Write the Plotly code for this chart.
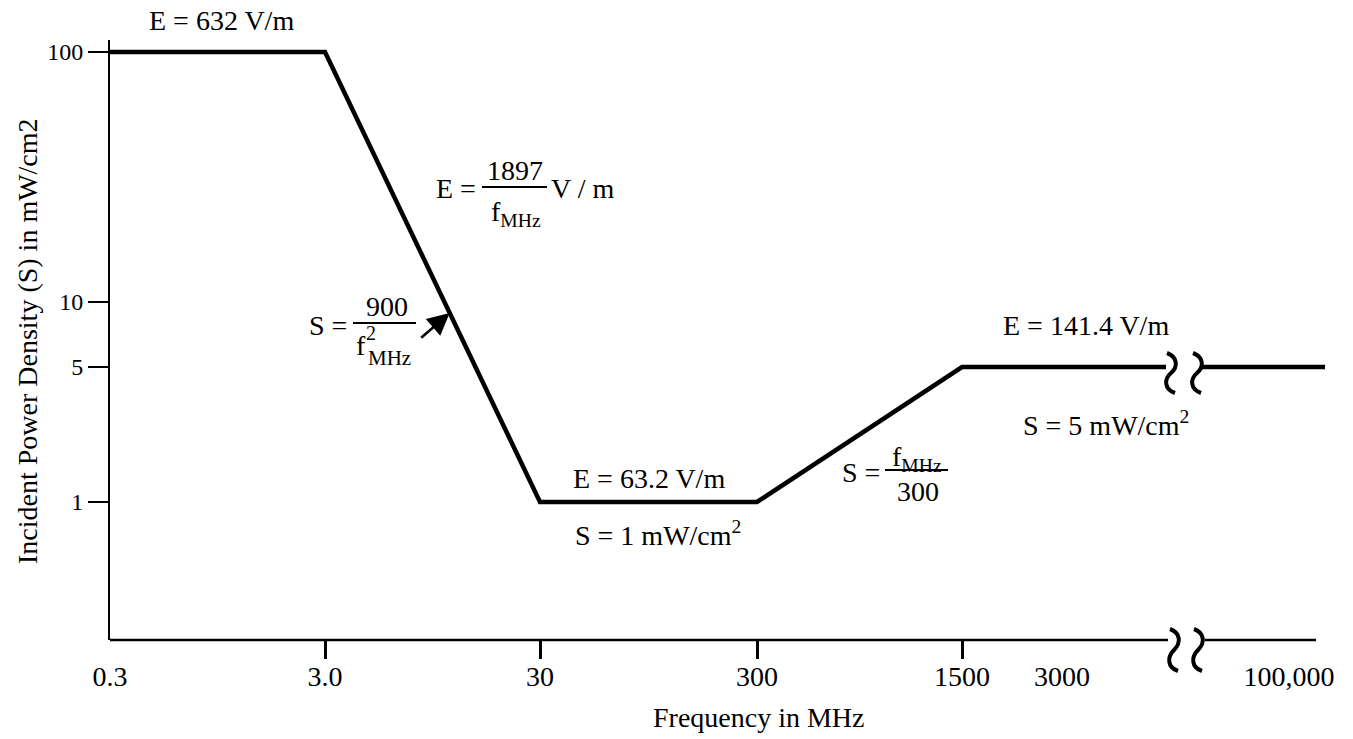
import numpy as np
import plotly.graph_objects as go

# ---------------- data ----------------
FREQ_MHZ = [0.3, 3, 30, 300, 1500, 100000]        # break-points of the limit curve
S_LIMIT = [100, 100, 1, 1, 5, 5]                  # power density, mW/cm2

X_TICK_FREQ = [0.3, 3, 30, 300, 1500, 3000, 100000]
X_TICK_LABELS = ["0.3", "3.0", "30", "300", "1500", "3000", "100,000"]
X_TICK_MARKED = [3, 30, 300, 1500]

Y_TICK_VALS = [1, 5, 10, 100]
Y_TICK_LABELS = ["1", "5", "10", "100"]

# ---------------- layout geometry (schematic, non-uniform scales) ----------------
W, H = 1353, 739
L_PX, R_PX, T_PX, B_PX = 110, 1325, 40, 640       # plot area in screen pixels
X_UNIT, Y_UNIT, Y_REF = 215.0, 250.0, 502.0


def xu(px):
    return (px - L_PX) / X_UNIT


def yu(py):
    return (Y_REF - py) / Y_UNIT


def xp(px):
    return (px - L_PX) / (R_PX - L_PX)


def yp(py):
    return (B_PX - py) / (B_PX - T_PX)


X_TICK_POS = [xu(p) for p in (110, 325, 540, 757, 962, 1062, 1289)]
Y_TICK_POS = [yu(p) for p in (502, 367, 302, 52)]


def fx(f):
    return np.interp(np.log10(f), np.log10(X_TICK_FREQ), X_TICK_POS)


def fy(s):
    return np.interp(np.log10(s), np.log10(Y_TICK_VALS), Y_TICK_POS)


X_MIN, X_MAX = 0.0, xu(R_PX)
Y_MIN, Y_MAX = yu(B_PX), yu(T_PX)
BREAK_LINE_L, BREAK_LINE_R = xu(1166), xu(1202)
BREAK_AX_L, BREAK_AX_R = xu(1168), xu(1205)
AXIS_END = xu(1316)

FONT = "Liberation Serif"
FS = 28
FS_Y = 24

xs = [float(fx(f)) for f in FREQ_MHZ]
ys = [float(fy(s)) for s in S_LIMIT]

# left part of curve up to the break, right part after the break
left_x = xs[:5] + [BREAK_LINE_L]
left_y = ys[:5] + [ys[5]]
right_x = [BREAK_LINE_R, xs[5], X_MAX]
right_y = [ys[5], ys[5], ys[5]]

fig = go.Figure()
line_style = dict(color="black", width=4.5)
fig.add_trace(go.Scatter(x=left_x, y=left_y, mode="lines", line=line_style,
                         hoverinfo="skip", showlegend=False))
fig.add_trace(go.Scatter(x=right_x, y=right_y, mode="lines", line=line_style,
                         hoverinfo="skip", showlegend=False))

shapes = []
# x axis line with a break
for a, b in ((X_MIN, BREAK_AX_L), (BREAK_AX_R, AXIS_END)):
    shapes.append(dict(type="line", xref="x", yref="paper", x0=a, x1=b, y0=0, y1=0,
                       line=dict(color="black", width=2.5)))

squig_line = "M -4,14 C 7,10 7,0 0,-6 C -7,-12 -7,-22 4,-26"
squig_axis = "M -4,11 C 7,7 7,-3 0,-10 C -7,-17 -7,-27 4,-31"
for px_ in (1171, 1197):
    shapes.append(dict(type="path", xref="x", yref="y", xsizemode="pixel", ysizemode="pixel",
                       xanchor=xu(px_), yanchor=ys[5], path=squig_line,
                       line=dict(color="black", width=4)))
for px_ in (1174, 1198):
    shapes.append(dict(type="path", xref="x", yref="paper", xsizemode="pixel", ysizemode="pixel",
                       xanchor=xu(px_), yanchor=0, path=squig_axis,
                       line=dict(color="black", width=4)))

# fraction bars
for x0p, x1p, ypx in ((482, 547, 187), (353, 416, 323), (885, 948, 470)):
    shapes.append(dict(type="line", xref="x", yref="y", x0=xu(x0p), x1=xu(x1p),
                       y0=yu(ypx), y1=yu(ypx), line=dict(color="black", width=1.8)))

annotations = []


def txt(text, px_, py_, size=FS, angle=0):
    annotations.append(dict(text=text, x=xp(px_), y=yp(py_), xref="paper", yref="paper",
                            showarrow=False, xanchor="center", yanchor="middle",
                            textangle=angle, font=dict(family=FONT, size=size, color="black")))


txt("E = 632 V/m", 221, 21)

txt("E =", 456, 188)
txt("1897", 515, 170)
txt("f<sub>MHz</sub>", 516, 213)
txt("V / m", 582, 188)

txt("S =", 328, 325)
txt("900", 387, 307)
txt("f", 361, 345)
txt("2", 371, 333, size=20)
txt("MHz", 389, 358, size=21)

txt("E = 63.2 V/m", 649, 478)
txt("S = 1 mW/cm<sup>2</sup>", 658, 533)

txt("S =", 861, 472)
txt("f<sub>MHz</sub>", 917, 459)
txt("300", 918, 491)

txt("E = 141.4 V/m", 1086, 325)
txt("S = 5 mW/cm<sup>2</sup>", 1106, 423)

txt("Frequency in MHz", 759, 718)
txt("Incident Power Density (S) in mW/cm2", 27, 341, angle=-90)

# arrow pointing at the 900/f^2 segment
t = 0.58
ax_x = xs[1] + t * (xs[2] - xs[1])
ax_y = ys[1] + t * (ys[2] - ys[1])
annotations.append(dict(x=ax_x, y=ax_y, xref="x", yref="y", text="", showarrow=True,
                        ax=-30, ay=26, arrowhead=2, arrowsize=1.7, arrowwidth=2.6,
                        arrowcolor="black", standoff=0))

fig.update_layout(
    width=W, height=H,
    margin=dict(l=L_PX, r=W - R_PX, t=T_PX, b=H - B_PX, pad=0),
    paper_bgcolor="white", plot_bgcolor="white",
    shapes=shapes, annotations=annotations,
    font=dict(family=FONT, size=FS, color="black"),
    xaxis=dict(range=[X_MIN, X_MAX], tickmode="array", tickvals=X_TICK_POS,
               ticktext=X_TICK_LABELS, ticks="", showline=False, showgrid=False,
               zeroline=False, tickfont=dict(family=FONT, size=FS, color="black"),
               ticklabelstandoff=17,
               minor=dict(tickmode="array", tickvals=[float(fx(f)) for f in X_TICK_MARKED],
                          ticks="outside", ticklen=18, tickwidth=2.5, tickcolor="black",
                          showgrid=False)),
    yaxis=dict(range=[Y_MIN, Y_MAX], tickmode="array", tickvals=Y_TICK_POS,
               ticktext=Y_TICK_LABELS, ticks="outside", ticklen=20, tickwidth=2,
               tickcolor="black", showline=True, linewidth=2, linecolor="black",
               showgrid=False, zeroline=False,
               tickfont=dict(family=FONT, size=FS_Y, color="black")),
)

fig.write_html(
    "out.html",
    config={"displayModeBar": False},
    post_script="document.body.style.margin='0';"
                "document.documentElement.style.overflow='hidden';",
)
